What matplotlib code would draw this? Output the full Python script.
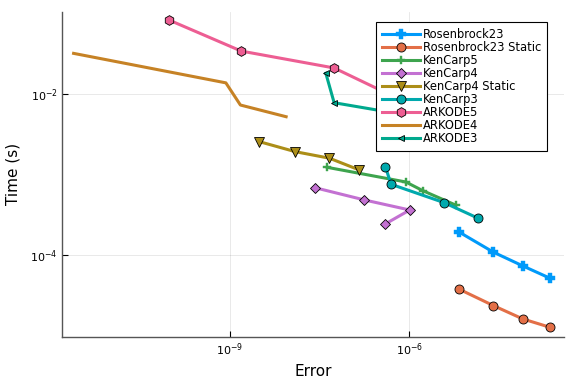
import matplotlib

matplotlib.use("Agg")
import matplotlib.pyplot as plt  # noqa: E402

# Work-precision data (error, time in seconds).
ros23_err = [6.7e-6, 2.56e-5, 7.94e-5, 2.27e-4]
ros23_time = [1.94e-4, 1.08e-4, 7.28e-5, 5.11e-5]
ros23s_err = [6.7e-6, 2.56e-5, 7.94e-5, 2.27e-4]
ros23s_time = [3.76e-5, 2.33e-5, 1.59e-5, 1.25e-5]
kc5_err = [4.28e-8, 8.77e-7, 1.69e-6, 6.08e-6]
kc5_time = [1.23e-3, 8.09e-4, 6.3e-4, 4.15e-4]
kc4_err = [2.64e-8, 1.78e-7, 1.02e-6, 4.0e-7]
kc4_time = [6.87e-4, 4.83e-4, 3.62e-4, 2.43e-4]
kc4s_err = [3.13e-9, 1.24e-8, 4.63e-8, 1.47e-7]
kc4s_time = [2.57e-3, 1.93e-3, 1.6e-3, 1.14e-3]
kc3_err = [4.0e-7, 4.98e-7, 3.84e-6, 1.42e-5]
kc3_time = [1.25e-3, 7.57e-4, 4.47e-4, 2.86e-4]
ark5_err = [9.66e-11, 1.55e-9, 5.55e-8, 2.23e-6]
ark5_time = [8.41e-2, 3.46e-2, 2.13e-2, 5.7e-3]
ark4_err = [2.43e-12, 8.57e-10, 1.5e-9, 8.73e-9]
ark4_time = [3.24e-2, 1.39e-2, 7.36e-3, 5.26e-3]
ark3_err = [4.03e-8, 5.55e-8, 2.23e-6]
ark3_time = [1.83e-2, 7.86e-3, 4.92e-3]

series = [
    ("Rosenbrock23", ros23_err, ros23_time, "#009AFA", "P", 7),
    ("Rosenbrock23 Static", ros23s_err, ros23s_time, "#E36F47", "o", 6.5),
    ("KenCarp5", kc5_err, kc5_time, "#3EA44E", "P", 6),
    ("KenCarp4", kc4_err, kc4_time, "#C371D2", "D", 4.8),
    ("KenCarp4 Static", kc4s_err, kc4s_time, "#AC8E18", "v", 7),
    ("KenCarp3", kc3_err, kc3_time, "#00A9AD", "o", 6.5),
    ("ARKODE5", ark5_err, ark5_time, "#ED5E93", "h", 7),
    ("ARKODE4", ark4_err, ark4_time, "#C68225", None, 0),
    ("ARKODE3", ark3_err, ark3_time, "#00A98E", "<", 4.5),
]

fig = plt.figure(figsize=(5.76, 3.84), dpi=100)
ax = fig.add_axes([0.1085, 0.1232, 0.8707, 0.8464])

for name, err, t, color, marker, ms in series:
    if marker == "P":
        ax.plot(err, t, color=color, linewidth=2.2, marker=marker, markersize=ms,
                markeredgecolor=color, markeredgewidth=0.3, label=name)
    elif marker is None:
        ax.plot(err, t, color=color, linewidth=2.2, label=name)
    else:
        ax.plot(err, t, color=color, linewidth=2.2, marker=marker, markersize=ms,
                markeredgecolor="black", markeredgewidth=0.6, label=name)

ax.set_xscale("log")
ax.set_yscale("log")
ax.set_xlim(10 ** -11.80, 10 ** -3.41)
ax.set_ylim(10 ** -5.02, 10 ** -0.97)
ax.set_xticks([1e-9, 1e-6])
ax.set_yticks([1e-2, 1e-4])
ax.minorticks_off()
ax.tick_params(direction="in", length=4, width=0.8, labelsize=8, colors="black")
ax.grid(True, color="black", alpha=0.1, linewidth=0.6)
ax.set_axisbelow(True)
for side in ("top", "right"):
    ax.spines[side].set_visible(False)
for side in ("left", "bottom"):
    ax.spines[side].set_color("#555555")
    ax.spines[side].set_linewidth(1.0)

ax.set_xlabel("Error", fontsize=11)
ax.set_ylabel("Time (s)", fontsize=11, labelpad=7)

leg = ax.legend(loc="upper right", bbox_to_anchor=(0.967, 0.967), borderaxespad=0,
                fontsize=8.3, frameon=True, fancybox=False, framealpha=1.0,
                edgecolor="black", handlelength=3.3, labelspacing=0.0,
                borderpad=0.5, handletextpad=0.3)
leg.get_frame().set_linewidth(0.8)

fig.savefig("out.png", dpi=100)
